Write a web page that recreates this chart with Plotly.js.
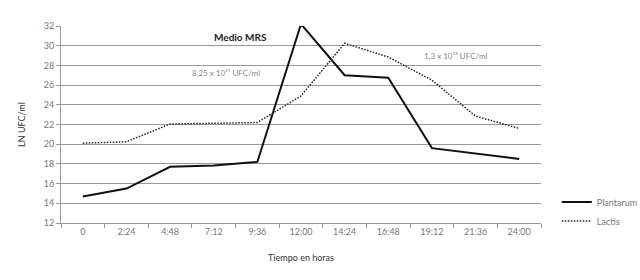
<!DOCTYPE html>
<html>
<head>
<meta charset="utf-8">
<script src="https://cdn.plot.ly/plotly-3.0.1.min.js"></script>
<style>html,body{margin:0;padding:0;background:#fff;}#chart{width:640px;height:280px;}</style>
</head>
<body>
<div id="chart"></div>
<script>
const categories = ["0", "2:24", "4:48", "7:12", "9:36", "12:00", "14:24", "16:48", "19:12", "21:36", "24:00"];
const plantarum = [14.7, 15.5, 17.7, 17.85, 18.2, 32.2, 27.0, 26.75, 19.6, 19.05, 18.5];
const lactis = [20.1, 20.25, 22.05, 22.1, 22.2, 24.9, 30.25, 28.85, 26.5, 22.85, 21.6];
const yTicks = [12, 14, 16, 18, 20, 22, 24, 26, 28, 30, 32];

const font = "Lato, 'Open Sans', sans-serif";
const traces = [
  {x: categories, y: plantarum, type: "scatter", mode: "lines", name: "Plantarum",
   line: {color: "#111", width: 2}},
  {x: categories, y: lactis, type: "scatter", mode: "lines", name: "Lactis",
   line: {color: "#222", width: 1.5, dash: "1.5px,1.5px"}}
];
const layout = {
  width: 640, height: 280,
  margin: {l: 61, r: 99, t: 26, b: 57, autoexpand: false},
  paper_bgcolor: "#fff", plot_bgcolor: "#fff",
  font: {family: font, size: 9, color: "#777"},
  showlegend: true,
  legend: {xref: "container", yref: "container", x: 0.87, y: 0.33, xanchor: "left", yanchor: "top",
           font: {size: 9, color: "#777"}, tracegroupgap: 4, itemwidth: 30,
           bgcolor: "rgba(0,0,0,0)"},
  xaxis: {type: "category", range: [-0.5, 10.5], tickson: "boundaries", ticks: "outside",
          ticklen: 4, tickcolor: "#999", showline: true, linecolor: "#999", linewidth: 1,
          showgrid: false, zeroline: false, fixedrange: true,
          title: {text: "Tiempo en horas", font: {size: 9, color: "#333"}, standoff: 18}},
  yaxis: {range: [12, 32], tickvals: yTicks, ticktext: yTicks.map(String), ticks: "outside",
          ticklen: 4, tickcolor: "#999", showline: true, linecolor: "#999", linewidth: 1,
          showgrid: true, gridcolor: "#999", gridwidth: 1, zeroline: false,
          title: {text: "LN UFC/ml", font: {size: 9, color: "#333"}, standoff: 16}},
  annotations: [
    {xref: "paper", yref: "paper", x: (240 - 61) / 480, y: (223 - 37) / 197, text: "<b>Medio MRS</b>",
     xanchor: "center", yanchor: "middle", showarrow: false, font: {size: 10, color: "#222"}},
    {xref: "paper", yref: "paper", x: (226 - 61) / 480, y: (223 - 73) / 197,
     xanchor: "center", yanchor: "middle",
     text: "8,25 x 10¹¹ UFC/ml", showarrow: false, font: {size: 8, color: "#888"}},
    {xref: "paper", yref: "paper", x: (456 - 61) / 480, y: (223 - 56) / 197,
     xanchor: "center", yanchor: "middle",
     text: "1,3 x 10¹³ UFC/ml", showarrow: false, font: {size: 8, color: "#888"}}
  ]
};
Plotly.newPlot("chart", traces, layout, {displayModeBar: false, staticPlot: true});
</script>
</body>
</html>
